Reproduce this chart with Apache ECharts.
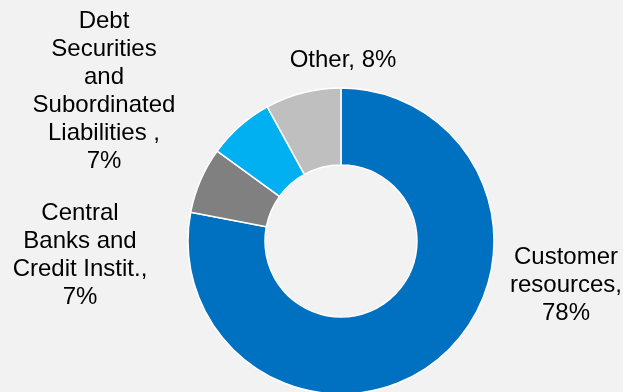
<!DOCTYPE html>
<html>
<head>
<meta charset="utf-8">
<script src="https://cdn.jsdelivr.net/npm/echarts@6/dist/echarts.min.js"></script>
<style>
  html, body { margin: 0; padding: 0; background: #F2F2F2; }
  #chart { width: 623px; height: 392px; }
</style>
</head>
<body>
<div id="chart"></div>
<script>
// Funding structure, share of total (%)
const categories = [
  'Customer\nresources',
  'Central\nBanks and\nCredit Instit.',
  'Debt\nSecurities\nand\nSubordinated\nLiabilities ',
  'Other'
];
const shares = [78, 7, 7, 8];
const colors = ['#0070C0', '#808080', '#00B0F0', '#BFBFBF'];

// Ring geometry and label anchors (relative to the ring centre)
const CX = 341, CY = 241;
const labelOffsets = [
  [225, 44],   // Customer resources
  [-261, 14],  // Central Banks
  [-237, -150],// Debt Securities
  [2, -181]    // Other
];

const chart = echarts.init(document.getElementById('chart'), null, { renderer: 'canvas' });

chart.setOption({
  backgroundColor: '#F2F2F2',
  animation: false,
  series: [{
    type: 'pie',
    center: [CX, CY],
    radius: [76, 153],
    startAngle: 90,
    clockwise: true,
    avoidLabelOverlap: false,
    itemStyle: { borderColor: '#FFFFFF', borderWidth: 1.5 },
    label: {
      show: true,
      position: 'outside',
      color: '#000000',
      fontFamily: 'Liberation Sans, Arial, sans-serif',
      fontSize: 24,
      lineHeight: 28,
      align: 'center',
      // multi-line names put the value on its own line, short ones keep it inline
      formatter: p => p.name + (p.name.indexOf('\n') >= 0 ? ',\n' : ', ') + p.value + '%'
    },
    labelLine: { show: false },
    labelLayout: params => {
      const o = labelOffsets[params.dataIndex];
      return { x: CX + o[0], y: CY + o[1], align: 'center', verticalAlign: 'middle' };
    },
    data: categories.map((name, i) => ({
      name,
      value: shares[i],
      itemStyle: { color: colors[i] }
    }))
  }]
});
</script>
</body>
</html>
